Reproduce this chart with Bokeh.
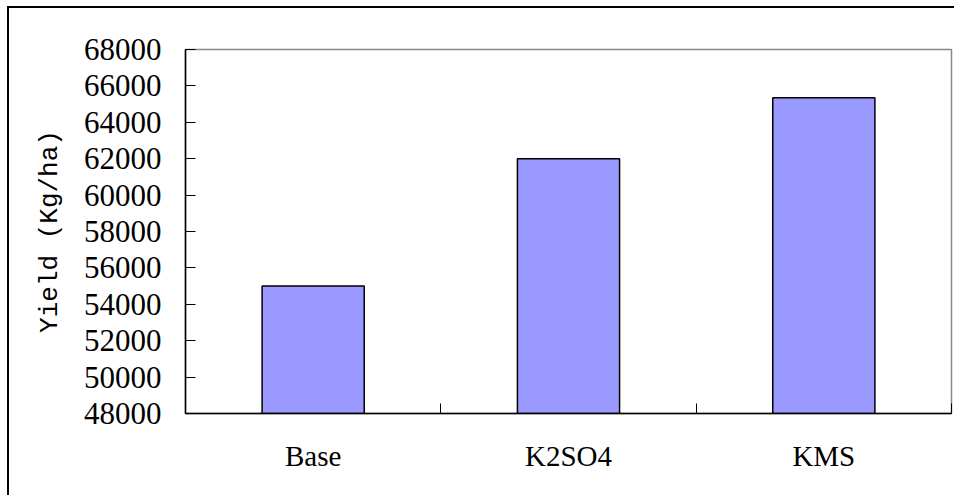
from bokeh.plotting import figure
from bokeh.models import Range1d, FixedTicker, NumeralTickFormatter
from bokeh.embed import file_html
from bokeh.resources import INLINE

categories = ["Base", "K2SO4", "KMS"]
yield_values = [55000, 62000, 65350]
y_ticks = [48000, 50000, 52000, 54000, 56000, 58000, 60000, 62000, 64000, 66000, 68000]
y_label = "Yield (Kg/ha)"

centers = [i + 0.5 for i in range(len(categories))]
bounds = [i for i in range(len(categories) + 1)]

SERIF = "'Liberation Serif', serif"
MONO = "'Liberation Mono', monospace"

p = figure(width=947, height=489, output_backend="svg", toolbar_location=None,
           x_range=Range1d(0, len(categories)), y_range=Range1d(y_ticks[0], y_ticks[-1]),
           min_border_left=176, min_border_right=5, min_border_top=41, min_border_bottom=84)
p.styles = {"margin-left": "7px", "margin-top": "6px",
            "border-top": "2px solid black", "border-left": "2px solid black"}

p.vbar(x=centers, top=yield_values, width=0.4, bottom=0,
       fill_color="#9999FF", line_color="black", line_width=1.5)

p.xgrid.visible = False
p.ygrid.visible = False
p.outline_line_color = "#888888"
p.outline_line_width = 1.5
p.background_fill_color = "white"
p.border_fill_color = "white"

xa = p.xaxis[0]
xa.ticker = FixedTicker(ticks=centers, minor_ticks=bounds)
xa.major_label_overrides = {c: name for c, name in zip(centers, categories)}
xa.major_tick_in = 0
xa.major_tick_out = 0
xa.minor_tick_in = 10
xa.minor_tick_out = 0
xa.minor_tick_line_color = "black"
xa.axis_line_color = "black"
xa.axis_line_width = 1.5
xa.major_label_text_font = SERIF
xa.major_label_text_font_size = "29px"
xa.major_label_text_color = "black"
xa.major_label_standoff = 26

ya = p.yaxis[0]
ya.ticker = FixedTicker(ticks=y_ticks)
ya.formatter = NumeralTickFormatter(format="0")
ya.minor_tick_line_color = None
ya.major_tick_in = 10
ya.major_tick_out = 0
ya.major_tick_line_color = "black"
ya.axis_line_color = "black"
ya.axis_line_width = 1.5
ya.major_label_text_font = SERIF
ya.major_label_text_font_size = "31px"
ya.major_label_text_color = "black"
ya.major_label_standoff = 24
ya.axis_label = y_label
ya.axis_label_text_font = MONO
ya.axis_label_text_font_size = "26px"
ya.axis_label_text_font_style = "normal"
ya.axis_label_text_color = "black"
ya.axis_label_standoff = 16

open("out.html", "w").write(file_html(p, INLINE))
